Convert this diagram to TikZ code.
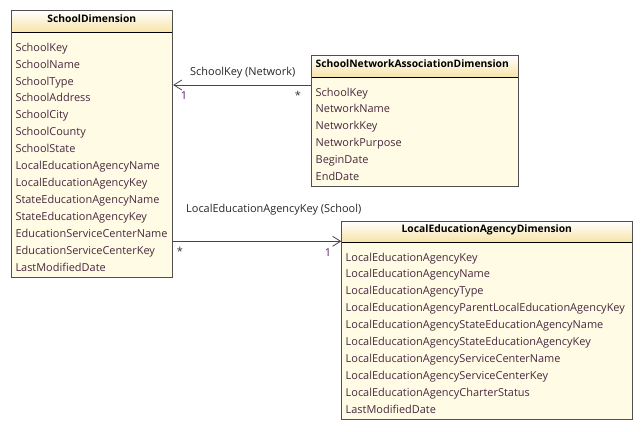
\documentclass[tikz,border=0pt]{standalone}
\usepackage{fontspec}
\setmainfont{Open Sans}
\usetikzlibrary{arrows.meta}
\definecolor{bodyfill}{RGB}{255,251,229}
\definecolor{hdrbot}{RGB}{247,228,168}
\definecolor{frame}{RGB}{80,80,80}
\definecolor{attrtxt}{RGB}{72,40,62}
\definecolor{multc}{RGB}{90,30,110}
\definecolor{linec}{RGB}{70,70,70}
\tikzset{
  attr/.style={anchor=base west, inner sep=0pt, text=attrtxt, font=\fontsize{10.95}{12}\selectfont},
  hdr/.style={anchor=base, inner sep=0pt, text=black, font=\fontsize{10.3}{12}\selectfont\bfseries},
  lbl/.style={anchor=base west, inner sep=0pt, text=black!85, font=\fontsize{10.95}{12}\selectfont},
  mult/.style={inner sep=0pt, text=multc, font=\fontsize{10.95}{12}\selectfont},
  star/.style={inner sep=0pt, text=black!80, font=\fontsize{10.95}{12}\selectfont},
  assoc/.style={draw=linec, line width=0.8pt, -{Straight Barb[length=8pt,width=10pt,line width=0.8pt]}},
}
\newcommand{\umlbox}[6]{% name, x1, y1, x2, y2, ysep
  \fill[bodyfill] (#2,#3) rectangle (#4,#5);
  \shade[top color=white, bottom color=hdrbot] (#2,#3) rectangle (#4,#6);
  \draw[black, line width=0.8pt] (#2,#6) -- (#4,#6);
  \node[draw=frame, line width=0.8pt, inner sep=0pt, minimum width=#4pt-#2pt, minimum height=#5pt-#3pt, anchor=north west] (#1) at (#2,#3) {};
}
\begin{document}
\begin{tikzpicture}[x=1pt,y=-1pt]
\useasboundingbox[fill=white] (0,0) rectangle (644,431);
% SchoolDimension
\umlbox{sd}{11.3}{10.3}{172.3}{276.7}{32.3}
\node[hdr] (sdh) at (91.8,22.8) {SchoolDimension};
\foreach \t [count=\i from 0] in {SchoolKey,SchoolName,SchoolType,SchoolAddress,SchoolCity,SchoolCounty,SchoolState,LocalEducationAgencyName,LocalEducationAgencyKey,StateEducationAgencyName,StateEducationAgencyKey,EducationServiceCenterName,EducationServiceCenterKey,LastModifiedDate}
  \node[attr] (sda\i) at (15.3,51.1+16.95*\i) {\t};
% SchoolNetworkAssociationDimension
\umlbox{snad}{311.3}{55.3}{518.3}{185.7}{77.3}
\node[hdr, anchor=base west] (snadh) at (315.5,67.5) {SchoolNetworkAssociationDimension};
\foreach \t [count=\i from 0] in {SchoolKey,NetworkName,NetworkKey,NetworkPurpose,BeginDate,EndDate}
  \node[attr] (snada\i) at (315.5,96+16.93*\i) {\t};
% LocalEducationAgencyDimension
\umlbox{lea}{341.3}{220.7}{632.3}{419}{242.3}
\node[hdr] (leah) at (486.8,232.8) {LocalEducationAgencyDimension};
\foreach \t [count=\i from 0] in {LocalEducationAgencyKey,LocalEducationAgencyName,LocalEducationAgencyType,LocalEducationAgencyParentLocalEducationAgencyKey,LocalEducationAgencyStateEducationAgencyName,LocalEducationAgencyStateEducationAgencyKey,LocalEducationAgencyServiceCenterName,LocalEducationAgencyServiceCenterKey,LocalEducationAgencyCharterStatus,LastModifiedDate}
  \node[attr] (leaa\i) at (345.5,261+16.97*\i) {\t};
% connectors
\coordinate (r1) at (0,85);
\coordinate (r2) at (0,241.3);
\draw[assoc] (snad.west |- r1) -- (sd.east |- r1);
\draw[assoc] (sd.east |- r2) -- (lea.west |- r2);
\node[lbl] (l1) at (190,75.7) {SchoolKey (Network)};
\node[mult] (m1a) at (184,96) {1};
\node[star] (m1b) at (298,95) {*};
\node[lbl] (l2) at (186,212.7) {LocalEducationAgencyKey (School)};
\node[star] (m2a) at (180,251) {*};
\node[mult] (m2b) at (328,253) {1};
\end{tikzpicture}
\end{document}
